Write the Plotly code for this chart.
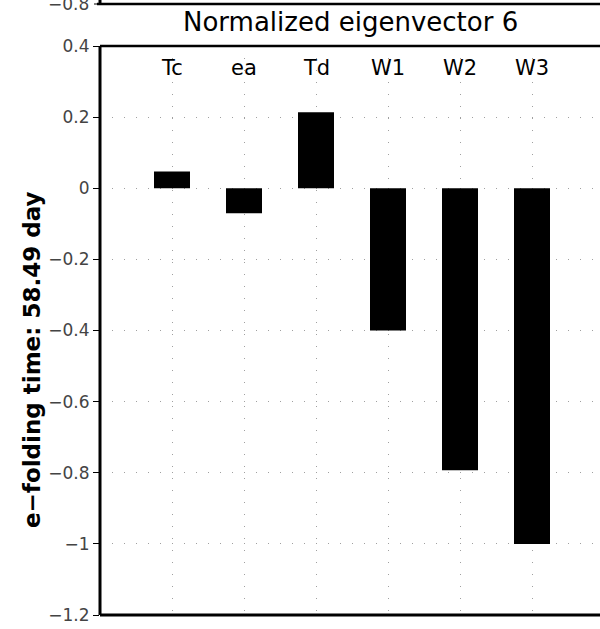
import plotly.graph_objects as go

categories = ["Tc", "ea", "Td", "W1", "W2", "W3"]
values = [0.047, -0.07, 0.214, -0.40, -0.793, -1.0]
positions = [1, 2, 3, 4, 5, 6]
ytick_vals = [0.4, 0.2, 0, -0.2, -0.4, -0.6, -0.8, -1.0, -1.2]
ytick_text = ["0.4", "0.2", "0", "\u22120.2", "\u22120.4", "\u22120.6", "\u22120.8", "\u22121", "\u22121.2"]
title_text = "Normalized eigenvector 6"
ylabel_text = "e\u2212folding time: 58.49 day"
prev_panel_label = "\u22120.8"

W, H = 600, 629
L, T, B = 100, 46, 14
plot_h = H - T - B
plot_w = W - L
px_per_unit = 72.0

fig = go.Figure()
fig.add_trace(go.Bar(x=positions, y=values, width=0.5,
                     marker=dict(color="black", line=dict(width=0)),
                     showlegend=False, hoverinfo="skip"))

for p, c in zip(positions, categories):
    fig.add_annotation(x=p, y=0.338, xref="x", yref="y", text=c, showarrow=False,
                       yanchor="middle",
                       font=dict(family="DejaVu Sans", size=21, color="black"))

fig.add_annotation(x=(350 - L) / plot_w, xref="paper", y=1 + (T - 22) / plot_h, yref="paper",
                   text=title_text, showarrow=False, yanchor="middle",
                   font=dict(family="DejaVu Sans", size=26, color="black"))

fig.update_layout(
    width=W, height=H,
    margin=dict(l=L, r=0, t=T, b=B),
    plot_bgcolor="white", paper_bgcolor="white",
    xaxis=dict(range=[0, plot_w / px_per_unit], tickvals=positions, showticklabels=False, ticks="",
               showgrid=True, gridcolor="#a0a0a0", griddash="1px,11px", gridwidth=1,
               showline=False, zeroline=False, fixedrange=True),
    yaxis=dict(range=[-1.2, 0.4], tickvals=ytick_vals, ticktext=ytick_text,
               ticks="outside", ticklen=6, tickcolor="black", tickwidth=1,
               tickfont=dict(family="DejaVu Sans", size=17, color="#444"),
               showgrid=True, gridcolor="#a0a0a0", griddash="1px,11px", gridwidth=1,
               showline=False, zeroline=False, fixedrange=True),
)

# white strip over the very right edge of the window (panel continues past it)
fig.add_shape(type="rect", xref="paper", yref="paper", x0=(595 - L) / plot_w, x1=1.05,
              y0=0.006, y1=0.994, fillcolor="white", line=dict(width=0), layer="above")

# frame of the panel: left, bottom, top
fig.add_shape(type="line", xref="paper", yref="paper", x0=0, x1=0, y0=0, y1=1,
              line=dict(color="black", width=3))
fig.add_shape(type="line", xref="paper", yref="paper", x0=0, x1=1.05, y0=0, y1=0,
              line=dict(color="black", width=3))
fig.add_shape(type="line", xref="paper", yref="paper", x0=0, x1=1.05, y0=1, y1=1,
              line=dict(color="black", width=2.5))
# previous panel bottom axis line
top_y = 1 + (T - 4) / plot_h
fig.add_shape(type="line", xref="paper", yref="paper", x0=-3 / plot_w, x1=1.05, y0=top_y, y1=top_y,
              line=dict(color="black", width=2.5))
fig.add_shape(type="line", xref="paper", yref="paper", x0=0, x1=0, y0=top_y, y1=1 + (T + 2) / plot_h,
              line=dict(color="black", width=3))
fig.add_shape(type="line", xref="paper", yref="paper", x0=-6 / plot_w, x1=0, y0=top_y, y1=top_y,
              line=dict(color="black", width=1))
fig.add_annotation(x=-9 / plot_w, xref="paper", y=top_y, yref="paper", text=prev_panel_label,
                   showarrow=False, xanchor="right", yanchor="middle",
                   font=dict(family="DejaVu Sans", size=17, color="#444"))

fig.add_annotation(x=(32 - L) / plot_w, xref="paper", y=(H - B - 360) / plot_h, yref="paper",
                   text=ylabel_text, textangle=-90, showarrow=False,
                   xanchor="center", yanchor="middle",
                   font=dict(family="DejaVu Sans", size=23, color="black", weight="bold"))

fig.write_html("out.html", config={"displayModeBar": False, "staticPlot": True},
               post_script="document.body.style.margin='0';document.body.style.overflow='hidden';")
